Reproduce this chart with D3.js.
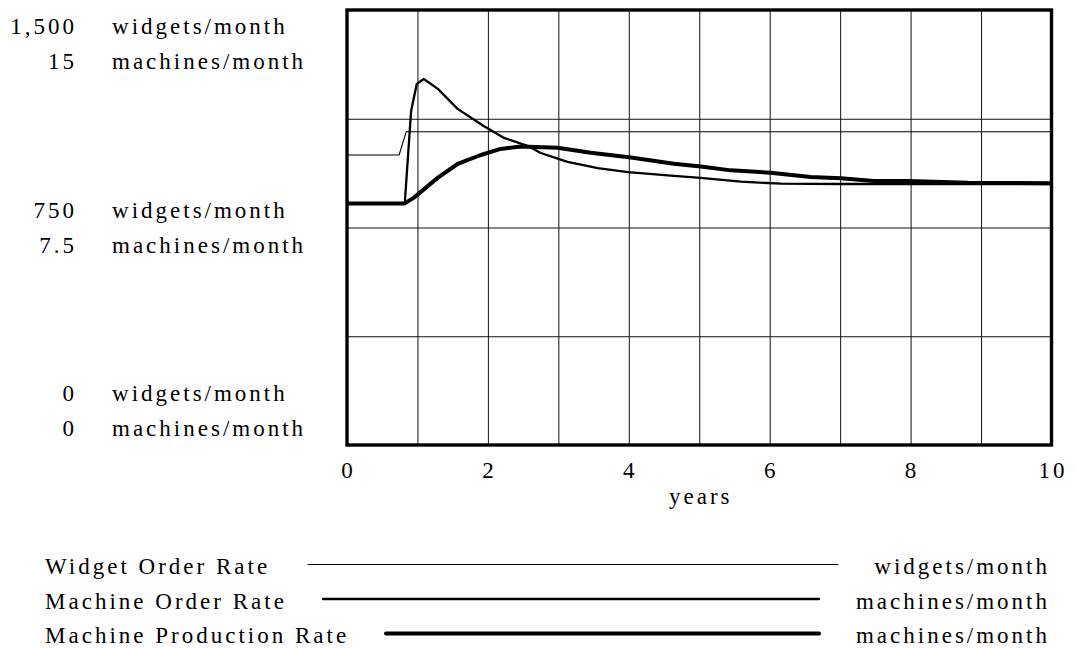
<!DOCTYPE html>
<html>
<head>
<meta charset="utf-8">
<script src="https://cdn.jsdelivr.net/npm/d3@7/dist/d3.min.js"></script>
</head>
<body style="margin:0;background:#fff">
<script>
// values
const widgetYears = [0, 0.74, 0.84, 10];
const widgetOrders = [1000, 1000, 1080, 1080];

const orderYears = [0, 0.82, 0.91, 0.99, 1.09, 1.29, 1.57, 1.94, 2.23, 2.57, 2.75, 3.13, 3.56, 3.99, 4.64, 5.02, 5.59, 6.16, 7, 8, 9, 10];
const machineOrders = [8.33, 8.33, 11.52, 12.45, 12.62, 12.28, 11.59, 11.0, 10.59, 10.31, 10.07, 9.76, 9.55, 9.41, 9.28, 9.21, 9.08, 9.01, 9.0, 9.0, 9.0, 9.0];

const prodYears = [0, 0.82, 0.95, 1.29, 1.57, 1.90, 2.18, 2.47, 2.99, 3.46, 4.03, 4.64, 5.02, 5.45, 6.01, 6.58, 7.01, 7.48, 7.96, 8.81, 10];
const machineProduction = [8.33, 8.33, 8.53, 9.22, 9.69, 10.0, 10.21, 10.29, 10.25, 10.08, 9.91, 9.70, 9.60, 9.47, 9.39, 9.24, 9.20, 9.10, 9.10, 9.04, 9.03];

const xTicks = [0, 2, 4, 6, 8, 10];
const widgetTicks = ['0', '750', '1,500'];
const machineTicks = ['0', '7.5', '15'];

const legendNames = ['Widget Order Rate', 'Machine Order Rate', 'Machine Production Rate'];
const legendUnits = ['widgets/month', 'machines/month', 'machines/month'];

let width = 1076,
    height = 650;
const ls = 3;
const serif = '"Liberation Serif"';

const plotLeft = 347, plotRight = 1051.5, plotTop = 10, plotBottom = 445;

const x = d3.scaleLinear().domain([0, 10]).range([plotLeft, plotRight]);
const yW = d3.scaleLinear().domain([0, 1500]).range([plotBottom, plotTop]);
const yM = d3.scaleLinear().domain([0, 15]).range([plotBottom, plotTop]);

const svg = d3.select('body').append('svg')
    .attr('width', width)
    .attr('height', height);

// spread letters with per-character dx
function spreadDx(txt) {
    return txt.split('').map((c, i) => i === 0 ? 0 : ls).join(' ');
}

function label(xp, yp, txt, anchor) {
    return svg.append('text')
        .attr('x', xp).attr('y', yp)
        .attr('dx', spreadDx(txt))
        .attr('text-anchor', anchor || 'start')
        .style('font-family', serif)
        .style('font-size', '23px')
        .style('fill', '#000')
        .text(txt);
}

// grid
svg.append('g')
    .attr('transform', 'translate(0,' + plotBottom + ')')
    .call(d3.axisBottom(x).tickValues(d3.range(1, 10)).tickSize(-(plotBottom - plotTop)).tickFormat(''))
    .call(g => g.select('.domain').remove())
    .selectAll('line').attr('stroke', '#111').attr('stroke-width', 1);

svg.append('g')
    .attr('transform', 'translate(' + plotLeft + ',0)')
    .call(d3.axisLeft(yW).tickValues([375, 750, 1125]).tickSize(-(plotRight - plotLeft)).tickFormat(''))
    .call(g => g.select('.domain').remove())
    .selectAll('line').attr('stroke', '#111').attr('stroke-width', 1);

// series
const lineW = d3.line().x(d => x(d[0])).y(d => yW(d[1]));
const lineM = d3.line().x(d => x(d[0])).y(d => yM(d[1]));

svg.append('path')
    .datum(widgetYears.map((t, i) => [t, widgetOrders[i]]))
    .attr('d', lineW)
    .attr('fill', 'none').attr('stroke', '#000').attr('stroke-width', 1.1);

svg.append('path')
    .datum(orderYears.map((t, i) => [t, machineOrders[i]]))
    .attr('d', lineM)
    .attr('fill', 'none').attr('stroke', '#000').attr('stroke-width', 2.3)
    .attr('stroke-linejoin', 'round');

svg.append('path')
    .datum(prodYears.map((t, i) => [t, machineProduction[i]]))
    .attr('d', lineM)
    .attr('fill', 'none').attr('stroke', '#000').attr('stroke-width', 4)
    .attr('stroke-linejoin', 'round');

// frame
svg.append('rect')
    .attr('x', plotLeft).attr('y', plotTop)
    .attr('width', plotRight - plotLeft).attr('height', plotBottom - plotTop)
    .attr('fill', 'none').attr('stroke', '#000').attr('stroke-width', 3.4);

// x tick labels: positions from the axis, text drawn with the serif labels
const xa = svg.append('g')
    .attr('transform', 'translate(0,' + plotBottom + ')')
    .call(d3.axisBottom(x).tickValues(xTicks).tickSize(0).tickFormat(''));
xa.select('.domain').remove();
xTicks.forEach(function (t) {
    label(x(t), plotBottom + 33, d3.format('d')(t), 'middle');
});

label(x(5), 504, 'years', 'middle');

// y labels, two units per level
const yLevels = [
    {w: widgetTicks[2], m: machineTicks[2], y: yW(1500) + 24},
    {w: widgetTicks[1], m: machineTicks[1], y: yW(750) - 9.5},
    {w: widgetTicks[0], m: machineTicks[0], y: yW(0) - 44}
];
yLevels.forEach(function (d) {
    label(74, d.y, d.w, 'end');
    label(112, d.y, 'widgets/month');
    label(74, d.y + 34.5, d.m, 'end');
    label(112, d.y + 34.5, 'machines/month');
});

// legend
const legY = [574, 608.5, 643];
const legLine = [[308, 838, 1.1], [323, 819, 2.3], [386, 819, 4]];
legendNames.forEach(function (name, i) {
    label(45, legY[i], name);
    svg.append('line')
        .attr('x1', legLine[i][0]).attr('x2', legLine[i][1])
        .attr('y1', legY[i] - 9.5).attr('y2', legY[i] - 9.5)
        .attr('stroke', '#000').attr('stroke-width', legLine[i][2])
        .attr('stroke-linecap', 'round');
    label(1047, legY[i], legendUnits[i], 'end');
});
</script>
</body>
</html>
